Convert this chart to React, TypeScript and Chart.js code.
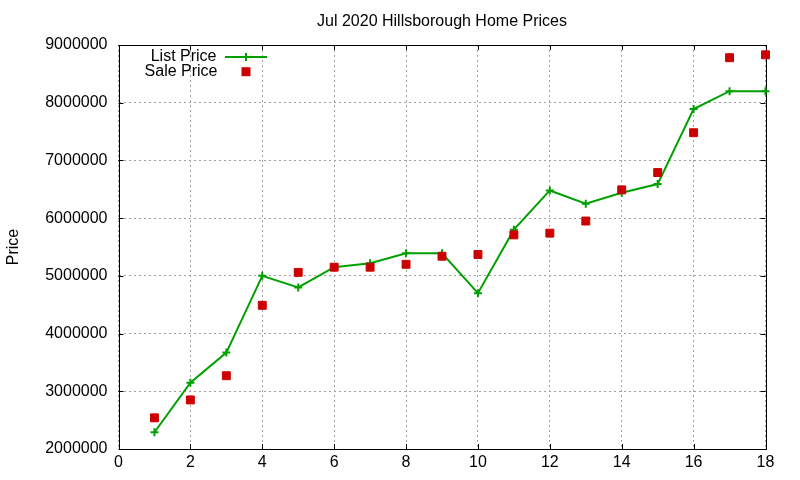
import React, { useEffect, useRef } from "react";
import { Chart, registerables } from "chart.js";

Chart.register(...registerables);

const chartTitle = "Jul 2020 Hillsborough Home Prices";
const yAxisTitle = "Price";
const seriesNames = ["List Price", "Sale Price"];

const months = [1, 2, 3, 4, 5, 6, 7, 8, 9, 10, 11, 12, 13, 14, 15, 16, 17, 18];
const listPrice = [
  2290000, 3150000, 3670000, 5000000, 4800000, 5150000, 5220000, 5390000, 5390000,
  4700000, 5800000, 6480000, 6250000, 6440000, 6590000, 7890000, 8200000, 8200000,
];
const salePrice = [
  2540000, 2850000, 3270000, 4490000, 5060000, 5150000, 5150000, 5200000, 5340000,
  5370000, 5710000, 5740000, 5950000, 6490000, 6790000, 7480000, 8780000, 8830000,
];
const xTicks = [0, 2, 4, 6, 8, 10, 12, 14, 16, 18];
const yTicks = [2000000, 3000000, 4000000, 5000000, 6000000, 7000000, 8000000, 9000000];

const GREEN = "#00a000";
const RED = "#cc0000";
const FONT = "'Liberation Sans', Arial, sans-serif";

const framePlugin = {
  id: "gnuFrame",
  beforeDatasetsDraw(chart: any) {
    const { ctx, chartArea } = chart;
    const { left, right, top, bottom } = chartArea;
    const xs = chart.scales.x;
    const ys = chart.scales.y;
    const tick = 5;
    ctx.save();
    ctx.strokeStyle = "#000";
    ctx.lineWidth = 1;
    ctx.beginPath();
    for (const v of xTicks) {
      const px = Math.round(xs.getPixelForValue(v)) + 0.5;
      ctx.moveTo(px, bottom);
      ctx.lineTo(px, bottom - tick);
      ctx.moveTo(px, top);
      ctx.lineTo(px, top + tick);
    }
    for (const v of yTicks) {
      const py = Math.round(ys.getPixelForValue(v)) + 0.5;
      ctx.moveTo(left, py);
      ctx.lineTo(left + tick, py);
      ctx.moveTo(right, py);
      ctx.lineTo(right - tick, py);
    }
    ctx.stroke();
    ctx.strokeRect(Math.round(left) + 0.5, Math.round(top) + 0.5, Math.round(right) - Math.round(left), Math.round(bottom) - Math.round(top));
    ctx.restore();
  },
  afterDraw(chart: any) {
    const { ctx, chartArea } = chart;
    const { left, top } = chartArea;
    ctx.save();
    ctx.font = `16px ${FONT}`;
    ctx.fillStyle = "#000";
    ctx.textAlign = "right";
    ctx.textBaseline = "middle";
    ctx.fillText(seriesNames[0], left + 98, top + 11.5);
    ctx.fillText(seriesNames[1], left + 99, top + 27);
    // List sample
    ctx.strokeStyle = GREEN;
    ctx.lineWidth = 2;
    ctx.beginPath();
    const ly = top + 12;
    ctx.moveTo(left + 106.5, ly);
    ctx.lineTo(left + 148.5, ly);
    const cx = left + 127.5;
    ctx.moveTo(cx, ly - 4);
    ctx.lineTo(cx, ly + 4);
    ctx.stroke();
    // Sale sample
    ctx.fillStyle = RED;
    ctx.fillRect(cx - 4.5, top + 26.7 - 4.5, 9, 9);
    ctx.restore();
  },
};

export default function App() {
  const canvasRef = useRef<HTMLCanvasElement | null>(null);

  useEffect(() => {
    const canvas = canvasRef.current;
    if (!canvas) return;
    Chart.defaults.font.family = FONT;
    Chart.defaults.font.size = 16;
    Chart.defaults.color = "#000";

    const chart = new Chart(canvas, {
      type: "line",
      data: {
        datasets: [
          {
            label: seriesNames[1],
            data: months.map((m, i) => ({ x: m, y: salePrice[i] })),
            showLine: false,
            pointStyle: "rect",
            pointRadius: 5.6,
            pointBorderWidth: 1,
            pointBackgroundColor: RED,
            pointBorderColor: RED,
            borderColor: RED,
            backgroundColor: RED,
            order: 0,
            clip: false,
          },
          {
            label: seriesNames[0],
            data: months.map((m, i) => ({ x: m, y: listPrice[i] })),
            borderColor: GREEN,
            backgroundColor: GREEN,
            borderWidth: 2,
            pointStyle: "cross",
            pointRadius: 4,
            pointBorderWidth: 2,
            pointBorderColor: GREEN,
            tension: 0,
            fill: false,
            order: 1,
            clip: false,
          },
        ],
      },
      options: {
        responsive: false,
        animation: false,
        events: [],
        layout: { padding: { left: 0, right: 34.5, top: 0, bottom: 0 } },
        plugins: {
          legend: { display: false },
          tooltip: { enabled: false },
          title: {
            display: true,
            text: chartTitle,
            fullSize: false,
            color: "#000",
            font: { size: 16, weight: "normal", family: FONT },
            padding: { top: 12, bottom: 13.8 },
          },
        },
        scales: {
          x: {
            type: "linear",
            min: 0,
            max: 18,
            afterBuildTicks: (scale: any) => {
              scale.ticks = xTicks.map((v) => ({ value: v }));
            },
            afterFit: (scale: any) => {
              scale.height = 31;
            },
            grid: { color: "#a0a0a0", lineWidth: 1, drawTicks: false },
            border: { display: false, dash: [2, 3] },
            ticks: { padding: 4, color: "#000", font: { size: 16 }, maxRotation: 0, autoSkip: false },
          },
          y: {
            type: "linear",
            min: 2000000,
            max: 9000000,
            afterBuildTicks: (scale: any) => {
              scale.ticks = yTicks.map((v) => ({ value: v }));
            },
            afterFit: (scale: any) => {
              scale.width = 118.5;
            },
            grid: { color: "#a0a0a0", lineWidth: 1, drawTicks: false },
            border: { display: false, dash: [2, 3] },
            title: {
              display: true,
              text: yAxisTitle,
              color: "#000",
              font: { size: 16, family: FONT },
              padding: { top: 4, bottom: 0 },
            },
            ticks: {
              padding: 11,
              color: "#000",
              font: { size: 16 },
              autoSkip: false,
              callback: (v: any) => String(v),
            },
          },
        },
      },
      plugins: [framePlugin],
    } as any);

    return () => chart.destroy();
  }, []);

  return (
    <div style={{ position: "absolute", left: 0, top: 0, width: 800, height: 480, background: "#fff" }}>
      <canvas ref={canvasRef} width={800} height={480} style={{ display: "block" }} />
    </div>
  );
}
